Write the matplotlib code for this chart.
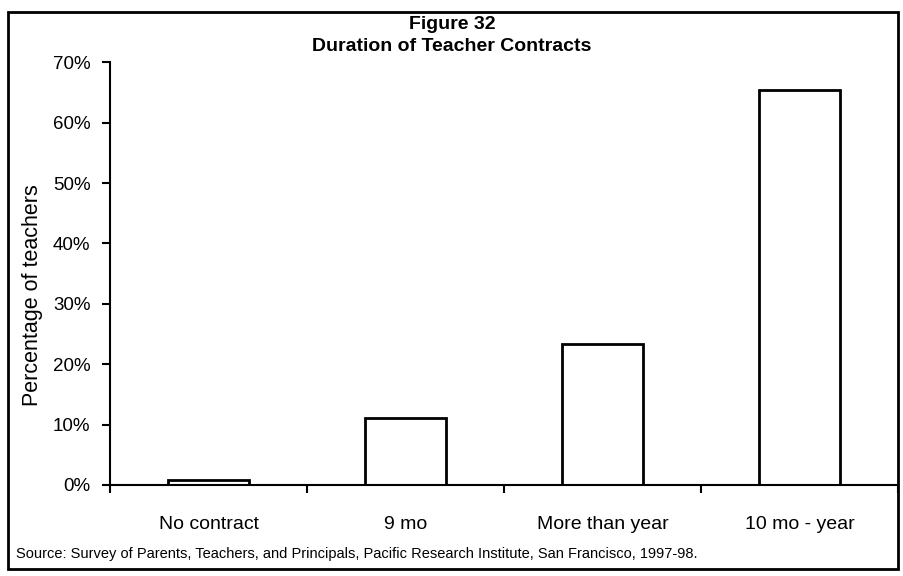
import matplotlib.pyplot as plt
from matplotlib.patches import Rectangle
import numpy as np

# Data
categories = ["No contract", "9 mo", "More than year", "10 mo - year"]
percent_teachers = [0.9, 11.1, 23.3, 65.4]
y_ticks = [0, 10, 20, 30, 40, 50, 60, 70]
y_tick_labels = ["0%", "10%", "20%", "30%", "40%", "50%", "60%", "70%"]

plt.rcParams['font.family'] = ['Liberation Sans', 'DejaVu Sans']

fig = plt.figure(figsize=(9.04, 5.76), dpi=100)
ax = fig.add_axes([0.1217, 0.158, 0.8717, 0.734])

x = np.arange(len(categories))
ax.bar(x, percent_teachers, width=0.41, color='white', edgecolor='black', linewidth=2)

ax.set_xlim(-0.5, len(categories) - 0.5)
ax.set_ylim(0, 70)
ax.set_yticks(y_ticks)
ax.set_yticklabels(y_tick_labels, fontsize=13.5)

# category ticks sit on the boundaries, labels sit under the bars
ax.set_xticks(np.arange(len(categories) + 1) - 0.5)
ax.set_xticklabels([])
ax.set_xticks(x, minor=True)
ax.set_xticklabels(categories, minor=True, fontsize=14)
ax.tick_params(axis='x', which='minor', length=0, pad=22)
ax.tick_params(axis='x', which='major', length=6, width=1.5, direction='out')
ax.tick_params(axis='y', length=6, width=1.5, direction='out', pad=8)

for side in ['top', 'right']:
    ax.spines[side].set_visible(False)
for side in ['left', 'bottom']:
    ax.spines[side].set_linewidth(1.5)

ax.set_ylabel("Percentage of teachers", fontsize=15.5)
ax.yaxis.set_label_coords(-0.085, 0.449)

fig.text(0.5, 0.958, "Figure 32", ha='center', va='center', fontsize=14, fontweight='bold')
fig.text(0.5, 0.92, "Duration of Teacher Contracts", ha='center', va='center', fontsize=14, fontweight='bold')
fig.text(0.018, 0.038, "Source: Survey of Parents, Teachers, and Principals, Pacific Research Institute, San Francisco, 1997-98.",
         ha='left', va='center', fontsize=10.5)

# outer frame
fig.patches.append(Rectangle((0.009, 0.012), 0.984, 0.968, transform=fig.transFigure,
                             fill=False, edgecolor='black', linewidth=2))

fig.savefig("out.png", dpi=100)
